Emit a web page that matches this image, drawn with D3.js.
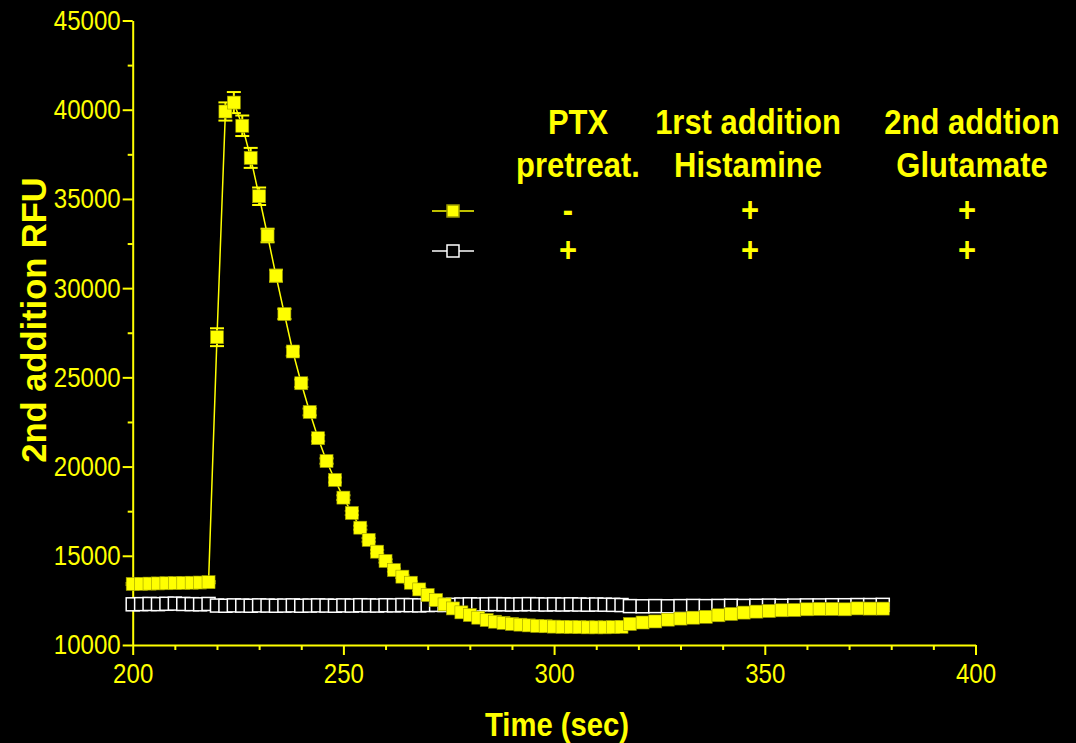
<!DOCTYPE html>
<html>
<head>
<meta charset="utf-8">
<script src="https://cdnjs.cloudflare.com/ajax/libs/d3/7.8.5/d3.min.js"></script>
<style>
  html, body { margin: 0; padding: 0; background: #000; }
  svg { display: block; }
</style>
</head>
<body>
<script>
// Sample times (sec). Reader switched from 2 s to 3 s steps after 318 s.
var times = [
  200, 202, 204, 206, 208, 210, 212, 214, 216, 218,
  220, 222, 224, 226, 228, 230, 232, 234, 236, 238,
  240, 242, 244, 246, 248, 250, 252, 254, 256, 258,
  260, 262, 264, 266, 268, 270, 272, 274, 276, 278,
  280, 282, 284, 286, 288, 290, 292, 294, 296, 298,
  300, 302, 304, 306, 308, 310, 312, 314, 316, 318,
  321, 324, 327, 330, 333, 336, 339, 342, 345, 348,
  351, 354, 357, 360, 363, 366, 369, 372, 375, 378
];

// No PTX pretreatment (filled yellow squares), mean RFU.
var yellowValues = [
  13420, 13430, 13440, 13450, 13460, 13470, 13480, 13490, 13500, 13520,
  27250, 39900, 40400, 39100, 37300, 35150, 32950, 30700, 28550, 26450,
  24670, 23060, 21590, 20310, 19250, 18260, 17400, 16575, 15890, 15230,
  14710, 14200, 13830, 13490, 13115, 12800, 12520, 12275, 12050, 11830,
  11680, 11530, 11400, 11305, 11240, 11180, 11140, 11100, 11070, 11050,
  11030, 11020, 11010, 11000, 10990, 10990, 10990, 11000, 11020, 11180,
  11260, 11320, 11420, 11480, 11530, 11580, 11665, 11740, 11815, 11870,
  11905, 11945, 11960, 12000, 12020, 12020, 12000, 12050, 12040, 12040
];

// SEM of the yellow series.
var yellowErrors = [
  60, 60, 60, 60, 60, 60, 60, 60, 60, 60,
  500, 510, 590, 575, 560, 490, 380, 330, 280, 240,
  210, 190, 170, 150, 140, 130, 120, 110, 100, 100,
  90, 90, 80, 80, 80, 70, 70, 70, 70, 60,
  60, 60, 60, 60, 60, 60, 60, 60, 60, 60,
  60, 60, 60, 60, 60, 60, 60, 60, 60, 60,
  60, 60, 60, 60, 60, 60, 60, 60, 60, 60,
  60, 60, 60, 60, 60, 60, 60, 60, 60, 60
];

// PTX pretreated (open white squares), mean RFU.
var whiteValues = [
  12280, 12290, 12300, 12290, 12310, 12320, 12300, 12290, 12280, 12300,
  12210, 12200, 12220, 12210, 12200, 12220, 12210, 12200, 12210, 12220,
  12200, 12210, 12220, 12210, 12200, 12220, 12210, 12230, 12220, 12210,
  12230, 12220, 12240, 12230, 12220, 12240, 12250, 12240, 12250, 12270,
  12280, 12270, 12280, 12290, 12280, 12270, 12280, 12290, 12280, 12270,
  12280, 12270, 12280, 12270, 12260, 12270, 12260, 12250, 12240, 12180,
  12170, 12180, 12170, 12180, 12190, 12180, 12190, 12200, 12190, 12200,
  12210, 12200, 12210, 12220, 12220, 12230, 12230, 12240, 12240, 12250
];

var xMajorTicks = [200, 250, 300, 350, 400];
var xMinorTicks = [210, 220, 230, 240, 260, 270, 280, 290, 310, 320, 330, 340, 360, 370, 380, 390];
var yMajorTicks = [10000, 15000, 20000, 25000, 30000, 35000, 40000, 45000];
var yMinorTicks = [12500, 17500, 22500, 27500, 32500, 37500, 42500];

var legendHeaders = [["PTX", "pretreat."], ["1rst addition", "Histamine"], ["2nd addtion", "Glutamate"]];
var legendSigns = [["-", "+", "+"], ["+", "+", "+"]];

var width = 1076, height = 743;
var yellow = "#ffff00";
var font = "'Liberation Sans', Arial, Helvetica, sans-serif";
var box = 13;    // marker edge
var narrow = 0.86; // the original text is squeezed sideways

var svg = d3.select("body").append("svg")
  .attr("width", width)
  .attr("height", height)
  .style("background", "#000");

var x = d3.scaleLinear().domain([200, 400]).range([132.7, 975.5]);
var y = d3.scaleLinear().domain([10000, 45000]).range([645, 20.5]);

// Style an axis group: yellow lines and squeezed labels.
function styleAxis(g) {
  g.select(".domain").attr("stroke", yellow).attr("stroke-width", 2);
  g.selectAll(".tick line").attr("stroke", yellow).attr("stroke-width", 2);
  g.selectAll(".tick text")
    .attr("fill", yellow)
    .style("font-family", font)
    .style("font-size", "28px")
    .attr("x", function () { return (+d3.select(this).attr("x") || 0) / narrow; })
    .attr("transform", "scale(" + narrow + ",1)");
}

// Place a squeezed text at (px, py).
function label(parent, px, py, s) {
  return parent.append("text")
    .attr("transform", "translate(" + px + "," + py + ") scale(" + narrow + ",1)")
    .text(s);
}

// x axis, major then minor ticks.
svg.append("g")
  .attr("transform", "translate(0,645)")
  .call(d3.axisBottom(x).tickValues(xMajorTicks).tickSize(10).tickSizeOuter(0).tickPadding(8).tickFormat(d3.format("d")))
  .call(styleAxis);

svg.append("g")
  .attr("transform", "translate(0,645)")
  .call(d3.axisBottom(x).tickValues(xMinorTicks).tickSize(5).tickFormat(""))
  .call(function (g) { g.select(".domain").remove(); })
  .call(styleAxis);

// y axis, major then minor ticks.
svg.append("g")
  .attr("transform", "translate(132.7,0)")
  .call(d3.axisLeft(y).tickValues(yMajorTicks).tickSize(10).tickSizeOuter(0).tickPadding(2).tickFormat(d3.format("d")))
  .call(styleAxis);

svg.append("g")
  .attr("transform", "translate(132.7,0)")
  .call(d3.axisLeft(y).tickValues(yMinorTicks).tickSize(5).tickFormat(""))
  .call(function (g) { g.select(".domain").remove(); })
  .call(styleAxis);

// Axis titles.
svg.append("text")
  .attr("transform", "translate(46,320) rotate(-90)")
  .attr("text-anchor", "middle")
  .attr("fill", yellow)
  .style("font-family", font)
  .style("font-weight", "bold")
  .style("font-size", "34.5px")
  .text("2nd addition RFU");

var xTitle = svg.append("g")
  .attr("text-anchor", "middle")
  .attr("fill", yellow)
  .style("font-family", font)
  .style("font-weight", "bold")
  .style("font-size", "34px");
label(xTitle, 557, 736, "Time (sec)");

var points = function (values) {
  return times.map(function (t, i) { return { t: t, v: values[i], i: i }; });
};

var line = d3.line()
  .x(function (d) { return x(d.t); })
  .y(function (d) { return y(d.v); });

// White series first: its black-filled boxes overlap one another left to right.
var whitePts = points(whiteValues);
svg.append("path")
  .datum(whitePts)
  .attr("d", line)
  .attr("fill", "none")
  .attr("stroke", "#fff")
  .attr("stroke-width", 1.5);

svg.append("g").selectAll("rect")
  .data(whitePts)
  .join("rect")
  .attr("x", function (d) { return x(d.t) - box / 2; })
  .attr("y", function (d) { return y(d.v) - box / 2; })
  .attr("width", box)
  .attr("height", box)
  .attr("fill", "#000")
  .attr("stroke", "#fff")
  .attr("stroke-width", 1.5);

// Yellow series on top.
var yellowPts = points(yellowValues);
svg.append("path")
  .datum(yellowPts)
  .attr("d", line)
  .attr("fill", "none")
  .attr("stroke", yellow)
  .attr("stroke-width", 1.5);

var bars = svg.append("g").selectAll("g")
  .data(yellowPts)
  .join("g")
  .attr("stroke", yellow)
  .attr("stroke-width", 2);

bars.append("line")
  .attr("x1", function (d) { return x(d.t); })
  .attr("x2", function (d) { return x(d.t); })
  .attr("y1", function (d) { return y(d.v + yellowErrors[d.i]); })
  .attr("y2", function (d) { return y(d.v - yellowErrors[d.i]); });

[1, -1].forEach(function (s) {
  bars.append("line")
    .attr("x1", function (d) { return x(d.t) - 7; })
    .attr("x2", function (d) { return x(d.t) + 7; })
    .attr("y1", function (d) { return y(d.v + s * yellowErrors[d.i]); })
    .attr("y2", function (d) { return y(d.v + s * yellowErrors[d.i]); });
});

svg.append("g").selectAll("rect")
  .data(yellowPts)
  .join("rect")
  .attr("x", function (d) { return x(d.t) - box / 2; })
  .attr("y", function (d) { return y(d.v) - box / 2; })
  .attr("width", box)
  .attr("height", box)
  .attr("fill", yellow)
  .attr("stroke", "#9a9a00")
  .attr("stroke-width", 0.6);

// Legend: header columns, then one row of signs per series.
var colX = [578, 748, 972];
var signX = [568, 750, 967];
var legend = svg.append("g")
  .attr("fill", yellow)
  .style("font-family", font)
  .style("font-weight", "bold")
  .style("font-size", "36px")
  .attr("text-anchor", "middle");

legendHeaders.forEach(function (pair, c) {
  pair.forEach(function (s, r) {
    label(legend, colX[c], 134 + r * 43, s);
  });
});

var rowY = [211, 251];
var rowStyle = [
  { stroke: yellow, fill: yellow, edge: "#9a9a00" },
  { stroke: "#fff", fill: "#000", edge: "#fff" }
];

legendSigns.forEach(function (row, r) {
  row.forEach(function (sign, c) {
    label(legend, signX[c], rowY[r] + 11, sign);
  });

  svg.append("line")
    .attr("x1", 432).attr("x2", 474)
    .attr("y1", rowY[r]).attr("y2", rowY[r])
    .attr("stroke", rowStyle[r].stroke)
    .attr("stroke-width", 1.5);

  svg.append("rect")
    .attr("x", 453 - 6).attr("y", rowY[r] - 6)
    .attr("width", 12).attr("height", 12)
    .attr("fill", rowStyle[r].fill)
    .attr("stroke", rowStyle[r].edge)
    .attr("stroke-width", 1.5);
});
</script>
</body>
</html>
